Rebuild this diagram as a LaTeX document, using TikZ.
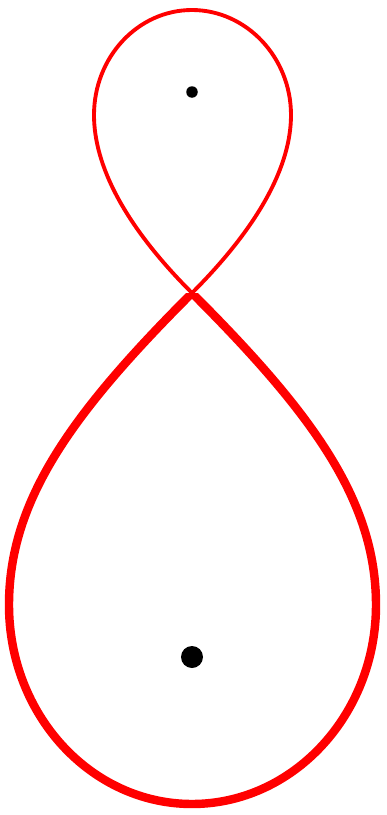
\documentclass[tikz,border=0pt]{standalone}
\usepackage{tikz}
\usepackage{xcolor}

\begin{document}
\begin{tikzpicture}[x=0.02cm, y=-0.02cm]
  \useasboundingbox (0,0) rectangle (386,815);
  \tikzset{dot/.style={circle, fill=black, inner sep=0pt}}
  \coordinate (cross) at (192,293);
  \node[dot, minimum size=0.23cm] (upper) at (192,92) {};
  \node[dot, minimum size=0.44cm] (lower) at (192,657) {};
  % small loop, thin
  \draw[red, line width=2.2pt] (cross) .. controls (124,225) and (94,165) .. (94,115)
    .. controls (94,57) and (138,10) .. (192,10)
    .. controls (246,10) and (291,57) .. (291,115)
    .. controls (291,165) and (260,225) .. (cross);
  % big loop, thick
  \begin{scope}
    \clip (0,293) rectangle (386,815);
    \draw[red, line width=4.8pt] (cross) .. controls (72,413) and (9,500) .. (9,605)
      .. controls (9,715) and (91,804) .. (192,804)
      .. controls (293,804) and (376,715) .. (376,605)
      .. controls (376,500) and (312,413) .. (cross);
  \end{scope}
\end{tikzpicture}
\end{document}
